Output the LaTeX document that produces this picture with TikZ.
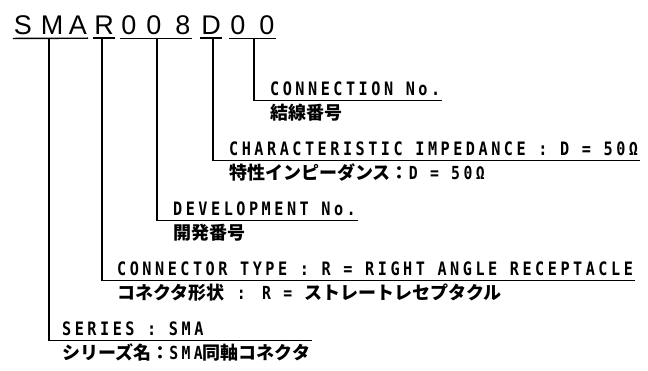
\documentclass[tikz,border=0pt]{standalone}
\usepackage{fontspec}
\newfontfamily\partfont{Liberation Sans}
\newfontfamily\codefont{DejaVu Sans Mono}[LetterSpace=19, FakeStretch=0.82]
\newfontfamily\jafont{Noto Sans CJK JP}
\usetikzlibrary{positioning}

\begin{document}
\begin{tikzpicture}[x=1pt,y=-1pt]
   \tikzstyle{every node}=[inner sep=0pt]
   \tikzstyle{part}=[anchor=base, inner xsep=1pt, inner ysep=3pt, font=\partfont\fontsize{27}{27}\selectfont]
   \tikzstyle{en}=[anchor=base west, inner xsep=2pt, inner ysep=4pt, font=\codefont\bfseries\fontsize{18.5}{19}\selectfont]
   \tikzstyle{ja}=[inner xsep=2pt, font=\jafont\bfseries\fontsize{18}{19}\selectfont]
   \tikzstyle{lead}=[line width=1.4pt]

\useasboundingbox (0,0) rectangle (648,371);

\foreach \c/\x [count=\i] in {S/23,M/52,A/78,R/104,0/129,0/154,8/183,D/211,0/238,0/267}
    \node[part] (p\i) at (\x,35) {\c};

\draw[lead] (p1.south west) -- (p3.south east);
\draw[lead] (p4.south west) -- (p4.south east);
\draw[lead] (p5.south west) -- (p7.south east);
\draw[lead] (p8.south west) -- (p8.south east);
\draw[lead] (p9.south west) -- (p10.south east);

\coordinate (tap1) at (49,38);
\coordinate (tap2) at (102,38);
\coordinate (tap3) at (157,38);
\coordinate (tap4) at (213,38);
\coordinate (tap5) at (254,38);

\node[en] (conn) at (268,96) {CONNECTION No.};
\node[ja, below right=3pt and 0pt of conn.south west] (connja) {結線番号};

\node[en] (imp) at (227,156) {CHARACTERISTIC IMPEDANCE : D = 50Ω};
\node[ja, below right=3pt and 0pt of imp.south west] (impja) {特性インピーダンス：{\codefont D = 50Ω}};

\node[en] (dev) at (171,216) {DEVELOPMENT No.};
\node[ja, below right=3pt and 0pt of dev.south west] (devja) {開発番号};

\node[en] (type) at (115,276) {CONNECTOR TYPE : R = RIGHT ANGLE RECEPTACLE};
\node[ja, below right=3pt and 0pt of type.south west] (typeja) {コネクタ形状{\codefont{} : R = }ストレートレセプタクル};

\node[en] (series) at (60,336) {SERIES : SMA};
\node[ja, below right=3pt and 0pt of series.south west] (seriesja) {シリーズ名：{\codefont SMA}同軸コネクタ};

\draw[lead] (tap5) |- (conn.south east);
\draw[lead] (tap4) |- (imp.south east);
\draw[lead] (tap3) |- (dev.south east);
\draw[lead] (tap2) |- (type.south east);
\draw[lead] (tap1) |- (series.south -| seriesja.east);

\end{tikzpicture}
\end{document}
